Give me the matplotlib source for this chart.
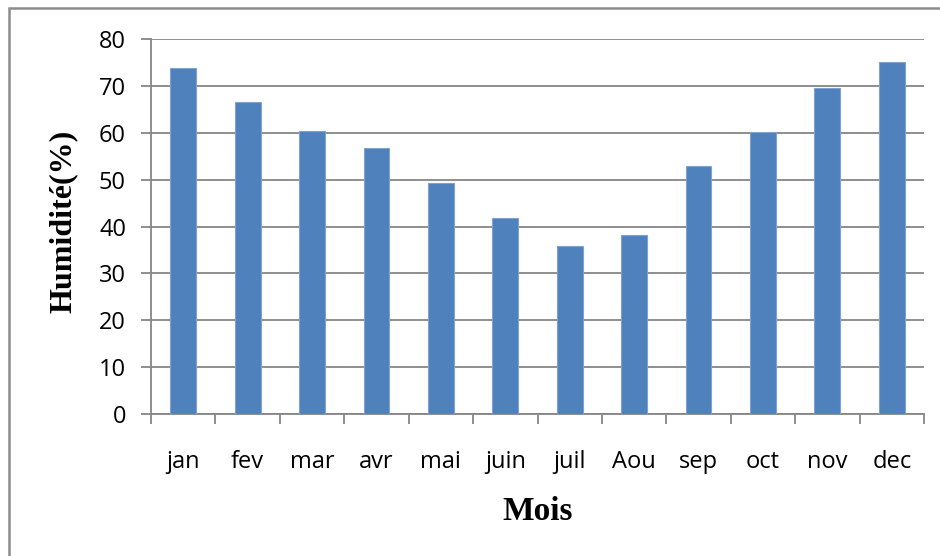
import matplotlib.pyplot as plt
from matplotlib.patches import Rectangle
import numpy as np

# data
mois = ['jan', 'fev', 'mar', 'avr', 'mai', 'juin', 'juil', 'Aou', 'sep', 'oct', 'nov', 'dec']
humidite = [73.9, 66.5, 60.3, 56.8, 49.3, 41.8, 35.8, 38.2, 52.9, 60.1, 69.5, 75.2]
yticks = [0, 10, 20, 30, 40, 50, 60, 70, 80]

grid_col = '#868686'

fig = plt.figure(figsize=(9.4, 5.56), dpi=100)
ax = fig.add_axes([151/940, 1-414/556, (924-151)/940, (414-39)/556])

x = np.arange(len(mois))
ax.bar(x, humidite, width=0.4, color='#4F81BD', edgecolor='#7FA3D1', linewidth=0.8, zorder=3)

ax.set_xlim(-0.5, len(mois)-0.5)
ax.set_ylim(0, 80)
ax.set_yticks(yticks)
ax.yaxis.grid(True, color=grid_col, linewidth=1.3, zorder=0)

# x ticks at category boundaries, labels centred
ax.set_xticks(np.arange(-0.5, len(mois)), minor=False)
ax.set_xticklabels([])
ax.set_xticks(x, minor=True)
ax.set_xticklabels(mois, minor=True, fontsize=17, family='Open Sans')
ax.tick_params(axis='x', which='minor', length=0, pad=26)
ax.tick_params(axis='x', which='major', length=7, width=1.3, color=grid_col)
ax.tick_params(axis='y', length=7, width=1.3, color=grid_col, pad=11)
for lab in ax.get_yticklabels():
    lab.set_fontsize(17)
    lab.set_family('Open Sans')

for s in ['top', 'right']:
    ax.spines[s].set_visible(False)
for s in ['left', 'bottom']:
    ax.spines[s].set_color(grid_col)
    ax.spines[s].set_linewidth(1.3)

fig.text(63/940, 1-221/556, 'Humidité(%)', rotation=90, ha='center', va='center',
         fontsize=23, fontweight='bold', family='Liberation Serif')
fig.text(538/940, 1-512/556, 'Mois', ha='center', va='center',
         fontsize=24, fontweight='bold', family='Liberation Serif')

# outer chart frame
fig.patches.append(Rectangle((9/940, -0.1), 1.2, 1.1-8/556, transform=fig.transFigure,
                             fill=False, edgecolor='#8c8c8c', linewidth=1.8))

fig.savefig('out.png', dpi=100)
